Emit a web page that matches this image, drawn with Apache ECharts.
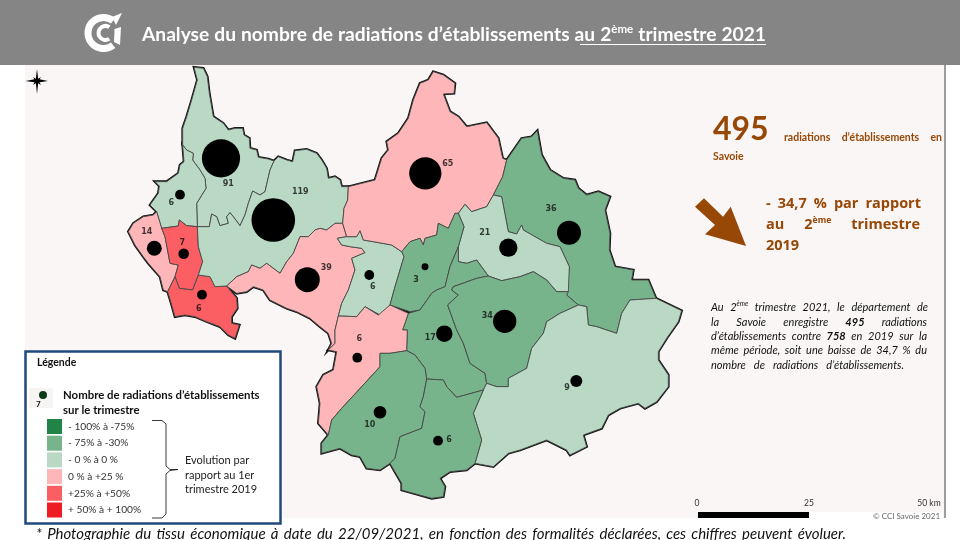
<!DOCTYPE html>
<html>
<head>
<meta charset="utf-8">
<script src="https://cdn.jsdelivr.net/npm/echarts@6/dist/echarts.min.js"></script>
<style>html,body{margin:0;background:#fff}#main{width:960px;height:540px}</style>
</head>
<body>
<div id="main"></div>
<script>
const regionIds = ['r91','r6nw','r14','r7','r6sw','r119','r39','r6c','r65','r36','r21','r3','r17','r34','r9','r6s','r10','r6se'];
const regionClass = [2,2,3,4,4,2,3,2,3,1,2,1,1,1,2,3,1,1];
const counts = [91,6,14,7,6,119,39,6,65,36,21,3,17,34,9,6,10,6];
// position de chaque cercle sur le fond de carte
const bubblePlaces = [[221,158.3],[180,194.7],[154.3,248.3],[183.7,253.7],[202,294.7],[273.3,220],[307.3,279.7],[369.3,275],[425.3,173.3],[569,232.7],[508.3,247.7],[425,266.7],[444.3,333.7],[504.7,321.3],[576.3,381],[357.3,357.7],[380,412.3],[438,440.7]];
const labelPlaces = [[228.3,184.3],[171.3,202.7],[146.7,232],[182.3,242.7],[198.7,308.7],[300.3,192.3],[326.3,268.3],[372.7,287],[447.7,164],[551,209.3],[484.7,232.7],[416,280.3],[430.3,338],[487.3,315.7],[567,388.3],[359.3,339.3],[369.7,425],[449,440]];
const classLabels = ['- 100% à -75%','- 75% à -30%','- 0 % à 0 %','0 % à +25 %','+25% à +50%','+ 50% à + 100%'];
const classColors = ['#1f8445','#78b48b','#bad9c5','#feb6b8','#fb5f63','#ee1c25'];

// contours relevés sur des agrandissements x3 de l'image
const c1 = pts => pts.map(p => [120 + p[0] / 3, 60 + p[1] / 3]);
const c2 = pts => pts.map(p => [330 + p[0] / 3, 70 + p[1] / 3]);
const c3 = pts => pts.map(p => [300 + p[0] / 3, 280 + p[1] / 3]);

const outlines = {
  r91: c1([[222,22],[250,25],[262,50],[268,100],[280,170],[310,190],[325,210],[345,205],[368,205],[372,225],[388,235],[390,265],[410,270],[415,292],[445,297],[462,303],[450,330],[435,395],[420,405],[398,393],[385,430],[375,465],[360,497],[340,470],[330,458],[320,470],[325,490],[300,497],[290,470],[275,462],[268,500],[232,500],[230,430],[258,385],[255,355],[240,330],[218,300],[220,280],[200,270],[188,255],[188,205],[200,170],[215,120],[232,60]]),
  r6nw: c1([[188,255],[200,270],[220,280],[218,300],[240,330],[255,355],[258,385],[230,430],[232,500],[200,497],[178,480],[175,498],[125,505],[110,455],[90,435],[115,400],[118,378],[105,365],[140,365],[175,340],[180,315],[192,305]]),
  r14: c1([[110,455],[125,505],[135,530],[150,610],[175,615],[165,650],[143,695],[130,690],[120,650],[85,610],[70,590],[45,555],[25,515],[40,490],[70,470],[100,465]]),
  r7: c1([[125,505],[175,498],[178,480],[200,497],[232,500],[235,560],[248,605],[235,645],[218,690],[178,685],[165,650],[175,615],[150,610],[135,530]]),
  r6sw: c1([[143,695],[165,650],[178,685],[218,690],[235,645],[270,650],[285,680],[320,678],[350,715],[352,745],[335,770],[335,790],[358,795],[345,835],[325,825],[300,800],[260,785],[225,770],[195,765],[165,770],[155,735]]),
  r119: c1([[462,303],[475,290],[500,300],[518,305],[525,272],[560,268],[590,280],[605,300],[620,325],[625,355],[645,350],[660,360],[665,380],[685,380],[683,420],[672,445],[668,490],[645,490],[620,510],[600,505],[585,510],[565,530],[540,530],[520,580],[500,605],[480,640],[440,610],[420,625],[395,615],[385,635],[350,650],[320,678],[285,680],[270,650],[235,645],[248,605],[235,560],[232,500],[268,500],[275,462],[290,470],[300,497],[325,490],[320,470],[330,458],[340,470],[360,497],[375,465],[385,430],[398,393],[420,405],[435,395],[450,330]]),
  r39: c1([[320,678],[350,650],[385,635],[395,615],[420,625],[440,610],[480,640],[500,605],[520,580],[540,530],[565,530],[585,510],[600,505],[620,510],[645,490],[668,490],[680,530],[652,535],[665,555],[690,560],[725,565],[735,578],[695,595],[705,630],[685,690],[665,730],[655,768],[645,810],[645,850],[625,870],[635,850],[625,820],[600,800],[570,775],[530,755],[500,745],[450,720],[430,690],[400,680],[380,695],[350,700]]),
  r6c: c2([[22,505],[50,500],[80,500],[90,482],[100,510],[130,515],[185,525],[215,545],[222,560],[195,650],[180,705],[150,735],[105,710],[80,740],[25,738],[35,700],[55,660],[75,600],[65,565],[105,548],[95,535],[60,530],[35,525]]),
  r65: c2([[310,5],[340,15],[375,40],[372,70],[340,72],[360,125],[385,140],[410,170],[470,158],[505,205],[518,265],[530,270],[518,320],[490,375],[470,410],[425,425],[405,403],[385,430],[375,430],[355,475],[325,460],[320,495],[285,505],[280,525],[270,505],[240,515],[215,545],[185,525],[130,515],[100,510],[90,482],[80,500],[50,500],[38,460],[42,415],[53,390],[55,350],[135,330],[155,265],[175,240],[170,215],[205,190],[235,145],[250,90],[270,40],[295,30]]),
  r36: c2([[530,270],[575,205],[605,200],[622,182],[635,255],[660,300],[700,325],[735,330],[745,355],[770,375],[805,365],[840,380],[825,420],[840,490],[838,540],[855,590],[910,600],[905,630],[955,630],[978,685],[900,690],[875,730],[860,790],[800,770],[775,765],[770,710],[745,705],[710,675],[718,590],[690,530],[650,520],[580,480],[575,465],[560,492],[535,485],[515,380],[490,375],[518,320]]),
  r21: c2([[490,375],[515,380],[535,485],[560,492],[575,465],[580,480],[650,520],[690,530],[718,590],[715,665],[680,665],[650,630],[610,605],[570,620],[515,632],[475,618],[440,570],[410,580],[385,575],[385,530],[402,470],[385,430],[405,403],[425,425],[470,410]]),
  r3: c2([[215,545],[240,515],[270,505],[280,525],[285,505],[320,495],[325,460],[355,475],[375,430],[385,430],[402,470],[385,530],[360,590],[345,650],[320,660],[305,670],[270,720],[240,725],[180,705],[195,650],[222,560]]),
  r17: [...c2([[385,530],[385,575],[410,580],[440,570],[475,618],[440,625],[370,650],[365,660],[385,675]]),
        ...c3([[443,75],[470,150],[490,190],[510,250],[555,280],[560,310],[550,330],[470,352],[440,320],[430,300],[380,297],[375,265],[345,225],[320,212],[322,150],[308,150],[325,100]]),
        ...c2([[270,720],[305,670],[320,660],[345,650],[360,590]])],
  r34: [...c2([[370,650],[440,625],[475,618],[515,632],[570,620],[610,605],[650,630],[680,665],[715,665],[710,675],[745,705],[690,730],[650,755]]),
        ...c3([[730,160],[695,205],[680,265],[625,295],[625,320],[590,320],[560,310],[555,280],[510,250],[490,190],[470,150],[443,75]]),
        ...c2([[385,675],[365,660]])],
  r9: c3([[560,310],[590,320],[625,320],[625,295],[680,265],[695,205],[730,160],[740,125],[780,100],[835,75],[860,80],[865,135],[890,140],[950,160],[965,100],[990,60],[1068,55],[1145,92],[1135,125],[1100,175],[1075,215],[1075,240],[1105,285],[1105,320],[1070,365],[1035,385],[1015,370],[960,385],[925,405],[905,445],[850,465],[860,500],[810,525],[800,510],[740,480],[660,510],[625,520],[580,560],[525,550],[545,480],[520,400],[550,330]]),
  r6s: c3([[115,108],[170,110],[195,80],[235,105],[270,75],[325,100],[308,150],[322,150],[320,212],[270,220],[240,220],[240,260],[185,320],[125,385],[95,420],[85,465],[55,430],[60,370],[50,320],[70,285],[100,270],[110,215],[85,210],[105,190],[105,150]]),
  r10: c3([[240,220],[270,220],[320,212],[345,225],[375,265],[380,297],[370,350],[360,380],[375,395],[365,445],[300,470],[285,535],[270,550],[240,570],[200,565],[180,530],[155,525],[120,505],[65,520],[65,490],[85,465],[95,420],[125,385],[185,320],[240,260]]),
  r6se: c3([[380,297],[430,300],[440,320],[470,352],[550,330],[520,400],[545,480],[525,550],[500,570],[450,575],[420,595],[435,620],[430,650],[395,655],[340,640],[305,630],[305,610],[270,550],[285,535],[300,470],[365,445],[375,395],[360,380],[370,350]])
};

const geoJson = {
  type: 'FeatureCollection',
  features: regionIds.map(id => ({
    type: 'Feature',
    properties: { name: id },
    geometry: { type: 'Polygon', coordinates: [outlines[id].concat([outlines[id][0]])] }
  }))
};
echarts.registerMap('savoie', geoJson);

// repères en pixels de la page, donc pas de projection
const flat = { project: p => p, unproject: p => p };
const pageBox = { left: 0, top: 0, width: 960, height: 540, boundingCoords: [[0, 0], [960, 540]], projection: flat, roam: false };

const measure = document.createElement('canvas').getContext('2d');
const texts = [];
function width(t, font) { measure.font = font; return measure.measureText(t).width; }
function put(t, x, y, font, fill, align) {
  texts.push({ type: 'text', z: 5, style: { text: t, x: x, y: y, font: font, fill: fill, align: align || 'left', verticalAlign: 'middle' }, silent: true });
}
// ligne justifiée : *mot = gras, a^b = exposant
function justified(words, x0, x1, y, style, size, family, fill) {
  const f = (bold, s) => (style === 'italic' ? 'italic ' : '') + (bold ? 'bold ' : '') + s + 'px "' + family + '"';
  const parts = words.map(w => {
    const marked = w[0] === '*' && w.length > 1;
    const bold = marked || style === 'bold';
    const s = (marked ? w.slice(1) : w).split('^');
    const w1 = width(s[0], f(bold, size));
    const w2 = s[1] ? width(s[1], f(bold, size * 0.6)) : 0;
    return { s: s, bold: bold, w1: w1, w: w1 + w2 };
  });
  const total = parts.reduce((a, p) => a + p.w, 0);
  const gap = (x1 - x0 - total) / Math.max(parts.length - 1, 1);
  let x = x0;
  parts.forEach(p => {
    put(p.s[0], x, y, f(p.bold, size), fill);
    if (p.s[1]) put(p.s[1], x + p.w1, y - size * 0.3, f(p.bold, size * 0.6), fill);
    x += p.w + gap;
  });
}

const brown = '#974706';
justified('Analyse du nombre de radiations d’établissements au 2^ème trimestre 2021'.split(' '), 142, 766, 35, 'bold', 19.2, 'Lato', '#fff');
justified(['495'], 713, 766, 130, 'bold', 32, 'Lato', brown);
justified('radiations d’établissements en'.split(' '), 784, 942, 138, 'bold', 10.5, 'Lato', brown);
justified(['Savoie'], 713, 746, 157, 'bold', 10.5, 'Lato', brown);
justified('- 34,7 % par rapport'.split(' '), 766, 921, 204, 'bold', 14.5, 'Open Sans', brown);
justified('au 2^ème trimestre'.split(' '), 766, 920, 225, 'bold', 14.5, 'Open Sans', brown);
justified(['2019'], 766, 802, 246, 'bold', 14.5, 'Open Sans', brown);
justified('Au 2^ème trimestre 2021, le département de'.split(' '), 711, 928, 307, 'italic', 11, 'Lato', '#111');
justified('la Savoie enregistre *495 radiations'.split(' '), 711, 927, 322, 'italic', 11, 'Lato', '#111');
justified('d’établissements contre *758 en 2019 sur la'.split(' '), 711, 927, 336, 'italic', 11, 'Lato', '#111');
justified('même période, soit une baisse de 34,7 % du'.split(' '), 711, 927, 350, 'italic', 11, 'Lato', '#111');
justified('nombre de radiations d’établissements.'.split(' '), 711, 904, 365, 'italic', 11, 'Lato', '#111');
justified('* Photographie du tissu économique à date du 22/09/2021,  en fonction des formalités déclarées, ces chiffres peuvent évoluer.'.split(/ +/), 36, 846, 534, 'italic', 15, 'Lato', '#111');

put('Légende', 37, 363, 'bold 10.5px Lato', '#111');
put('Nombre de radiations d’établissements', 63, 395, 'bold 11.4px Lato', '#111');
put('sur le trimestre', 63, 410, 'bold 11.4px Lato', '#111');
put('7', 36, 404, 'bold 8px Lato', '#111');
put('Evolution par', 185, 460, '11px Lato', '#222');
put('rapport au 1er', 185, 475, '11px Lato', '#222');
put('trimestre 2019', 185, 489, '11px Lato', '#222');
put('0', 697, 503, '8.5px Lato', '#333', 'center');
put('25', 809, 503, '8.5px Lato', '#333', 'center');
put('50 km', 929, 503, '8.5px Lato', '#333', 'center');
put('© CCI Savoie 2021', 873, 516, '8px Lato', '#666');

const shapes = [
  // fond de page
  { type: 'rect', z: -5, shape: { x: 0, y: 0, width: 960, height: 65 }, style: { fill: '#858585' } },
  { type: 'rect', z: -5, shape: { x: 25, y: 65, width: 920, height: 453 }, style: { fill: '#faf6f6' } },
  { type: 'line', z: -4, shape: { x1: 945, y1: 65, x2: 945, y2: 518 }, style: { stroke: '#7f7f7f', lineWidth: 1.5 } },
  // logo
  { type: 'arc', z: 4, shape: { cx: 103.5, cy: 33, r: 15.5, startAngle: 0.9, endAngle: 5.38, clockwise: true }, style: { fill: 'none', stroke: '#fff', lineWidth: 7 } },
  { type: 'arc', z: 4, shape: { cx: 105.5, cy: 33, r: 7, startAngle: 1, endAngle: 5.3, clockwise: true }, style: { fill: 'none', stroke: '#fff', lineWidth: 4 } },
  { type: 'polygon', z: 4, shape: { points: [[112, 17], [122, 13], [116, 25]] }, style: { fill: '#fff' } },
  { type: 'polygon', z: 4, shape: { points: [[114.5, 29], [121, 27], [120, 45], [114, 42]] }, style: { fill: '#fff' } },
  { type: 'line', z: 4, shape: { x1: 580, y1: 44.5, x2: 766, y2: 44.5 }, style: { stroke: '#fff', lineWidth: 1 } },
  // rose des vents
  { type: 'polygon', z: 4, shape: { points: [[37, 69], [38.2, 79], [48, 81], [38.2, 82.5], [37, 94], [35.8, 82.5], [25.5, 81], [35.8, 79]] }, style: { fill: '#000' } },
  { type: 'polygon', z: 4, shape: { points: [[33, 77], [37, 79.5], [41, 77], [38.7, 81], [41, 85], [37, 82.5], [33, 85], [35.3, 81]] }, style: { fill: '#000' } },
  // flèche
  { type: 'polygon', z: 4, shape: { points: [[704, 198.3], [723, 216.7], [730.7, 206.7], [746, 246], [705, 234.3], [715, 225], [695, 206.7]] }, style: { fill: brown } },
  // cadre de légende
  { type: 'rect', z: 1, shape: { x: 25.5, y: 351.5, width: 255, height: 172 }, style: { fill: '#fff', stroke: '#1f497d', lineWidth: 2.5 } },
  { type: 'rect', z: 2, shape: { x: 29, y: 388, width: 24, height: 20 }, style: { fill: '#f7f4f4' } },
  { type: 'circle', z: 3, shape: { cx: 43, cy: 395, r: 4 }, style: { fill: '#0e3a1c' } },
  // accolade
  { type: 'polyline', z: 3, shape: { points: [[152, 420.5], [162, 420.5], [166, 424], [166, 466], [170, 469.5], [178, 469.5], [170, 470.5], [166, 474], [166, 514], [162, 518], [152, 518]] }, style: { fill: 'none', stroke: '#222', lineWidth: 0.9 } },
  // échelle
  { type: 'rect', z: 3, shape: { x: 698, y: 512, width: 111, height: 6 }, style: { fill: '#000' } },
  { type: 'rect', z: 3, shape: { x: 809, y: 512, width: 134, height: 6 }, style: { fill: '#fff' } }
];

const chart = echarts.init(document.getElementById('main'));
chart.setOption({
  backgroundColor: '#fff',
  animation: false,
  tooltip: { show: false },
  graphic: { elements: shapes.concat(texts) },
  // couche du dessous : le trait épais ne reste visible que sur le pourtour
  geo: Object.assign({
    map: 'savoie', z: 1, silent: true,
    itemStyle: { areaColor: '#222', borderColor: '#111', borderWidth: 2.6 },
    emphasis: { disabled: true }, select: { disabled: true }, label: { show: false }
  }, pageBox),
  visualMap: {
    type: 'piecewise', seriesIndex: 0, left: 47, top: 419, orient: 'vertical', align: 'left', inverse: true,
    itemWidth: 15, itemHeight: 15, itemGap: 1.7, itemSymbol: 'rect', textGap: 6, padding: 0, selectedMode: false, z: 6,
    textStyle: { fontFamily: 'Lato', fontSize: 10.2, color: '#333' },
    pieces: classLabels.map((l, i) => ({ value: i, label: l, color: classColors[i] }))
  },
  series: [
    Object.assign({
      type: 'map', map: 'savoie', z: 2, silent: true,
      itemStyle: { borderColor: '#4a4a4a', borderWidth: 0.9 },
      emphasis: { disabled: true }, select: { disabled: true }, label: { show: false },
      data: regionIds.map((id, i) => ({ name: id, value: regionClass[i] }))
    }, pageBox),
    {
      type: 'scatter', coordinateSystem: 'geo', geoIndex: 0, z: 3, silent: true,
      symbolSize: v => 4 * Math.sqrt(v[2]),
      itemStyle: { color: '#000', opacity: 1 },
      data: bubblePlaces.map((p, i) => [p[0], p[1], counts[i]])
    },
    {
      type: 'scatter', coordinateSystem: 'geo', geoIndex: 0, z: 4, silent: true,
      symbolSize: 0,
      label: { show: true, position: 'inside', formatter: p => p.value[2], fontFamily: 'DejaVu Sans', fontWeight: 'bold', fontSize: 8, color: '#111' },
      data: labelPlaces.map((p, i) => [p[0], p[1], counts[i]])
    }
  ]
});
</script>
</body>
</html>
